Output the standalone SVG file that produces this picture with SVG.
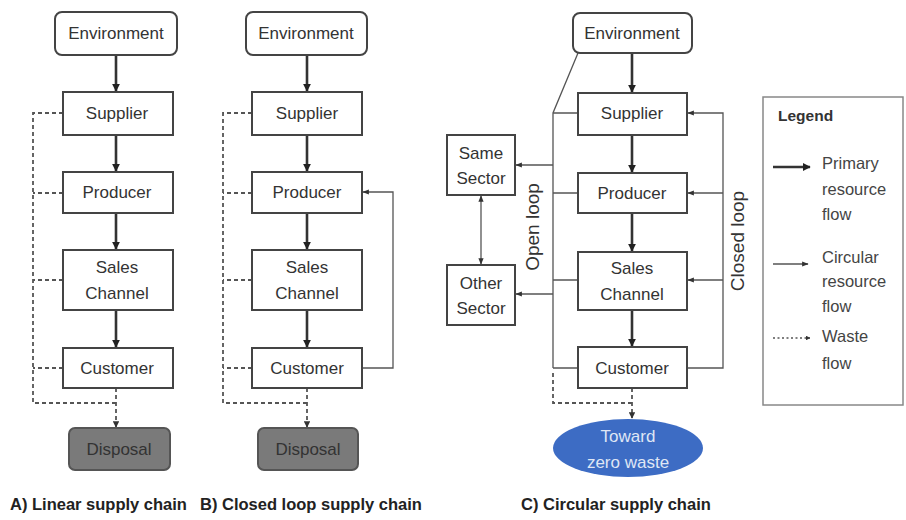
<svg xmlns="http://www.w3.org/2000/svg" width="906" height="520" viewBox="0 0 906 520">
<style>
.box{fill:#fff;stroke:#444;stroke-width:2}
.disp{fill:#7a7a7a;stroke:#555;stroke-width:2}
.t{font-family:"Liberation Sans",Arial,sans-serif;font-size:17px;fill:#333;text-anchor:middle;dominant-baseline:central}
.rot{font-size:19px}
.cap{font-family:"Liberation Sans",Arial,sans-serif;font-size:16.5px;font-weight:bold;fill:#222}
.lg{font-family:"Liberation Sans",Arial,sans-serif;font-size:16.5px;fill:#444;dominant-baseline:central}
.pri{stroke:#333;stroke-width:2.6;fill:none}
.cir{stroke:#555;stroke-width:1.3;fill:none}
.was{stroke:#555;stroke-width:1.8;fill:none;stroke-dasharray:4 3}
</style>
<defs>
<marker id="ah" viewBox="0 0 10 10" refX="9" refY="5" markerWidth="3" markerHeight="3" orient="auto-start-reverse"><path d="M0,0L10,5L0,10z" fill="#222"/></marker>
<marker id="ac" viewBox="0 0 10 10" refX="9" refY="5" markerWidth="5" markerHeight="5" orient="auto-start-reverse"><path d="M0,1L10,5L0,9z" fill="#333"/></marker>
<marker id="aw" viewBox="0 0 10 10" refX="9" refY="5" markerWidth="3.5" markerHeight="3.5" orient="auto"><path d="M0,0L10,5L0,10z" fill="#333"/></marker>
</defs>

<g id="connectors">
<!-- Panel A -->
<line class="pri" x1="116" y1="55" x2="116" y2="91" marker-end="url(#ah)"/>
<line class="pri" x1="116" y1="135" x2="116" y2="171" marker-end="url(#ah)"/>
<line class="pri" x1="116" y1="213" x2="116" y2="249" marker-end="url(#ah)"/>
<line class="pri" x1="116" y1="310" x2="116" y2="347" marker-end="url(#ah)"/>
<path class="was" d="M63,113H33V403H116"/>
<path class="was" d="M63,193H33M63,280H33M63,368H33"/>
<line class="was" x1="116" y1="388" x2="116" y2="427" marker-end="url(#aw)"/>
<!-- Panel B -->
<line class="pri" x1="307" y1="55" x2="307" y2="91" marker-end="url(#ah)"/>
<line class="pri" x1="307" y1="135" x2="307" y2="171" marker-end="url(#ah)"/>
<line class="pri" x1="307" y1="213" x2="307" y2="249" marker-end="url(#ah)"/>
<line class="pri" x1="307" y1="310" x2="307" y2="347" marker-end="url(#ah)"/>
<path class="was" d="M252,113H223V403H307"/>
<path class="was" d="M252,193H223M252,280H223M252,368H223"/>
<line class="was" x1="307" y1="388" x2="307" y2="427" marker-end="url(#aw)"/>
<path class="cir" d="M362,368H393V192H363" marker-end="url(#ac)"/>
<!-- Panel C -->
<line class="pri" x1="632" y1="53" x2="632" y2="92" marker-end="url(#ah)"/>
<line class="pri" x1="632" y1="135" x2="632" y2="172" marker-end="url(#ah)"/>
<line class="pri" x1="632" y1="213" x2="632" y2="251" marker-end="url(#ah)"/>
<line class="pri" x1="632" y1="310" x2="632" y2="346" marker-end="url(#ah)"/>
<path class="cir" d="M578,53L553,113V368"/>
<path class="cir" d="M578,113H553M578,193H553M578,280H553M578,368H553"/>
<line class="cir" x1="553" y1="165" x2="516" y2="165" marker-end="url(#ac)"/>
<line class="cir" x1="553" y1="294" x2="516" y2="294" marker-end="url(#ac)"/>
<line class="cir" x1="481" y1="264" x2="481" y2="196" marker-start="url(#ac)" marker-end="url(#ac)"/>
<path class="cir" d="M687,368H723V113H688" marker-end="url(#ac)"/>
<line class="cir" x1="723" y1="193" x2="688" y2="193" marker-end="url(#ac)"/>
<line class="cir" x1="723" y1="280" x2="688" y2="280" marker-end="url(#ac)"/>
<path class="was" d="M553,373V403H632"/>
<line class="was" x1="632" y1="388" x2="632" y2="418" marker-end="url(#aw)"/>
</g>

<g id="a-environment"><rect class="box" x="55" y="12" width="122" height="43" rx="7"/><text class="t" x="116" y="33">Environment</text></g>
<g id="a-supplier"><rect class="box" x="63" y="92" width="110" height="43"/><text class="t" x="117" y="113">Supplier</text></g>
<g id="a-producer"><rect class="box" x="63" y="172" width="110" height="41"/><text class="t" x="117" y="192">Producer</text></g>
<g id="a-sales"><rect class="box" x="63" y="250" width="110" height="60"/><text class="t" x="117" y="267">Sales</text><text class="t" x="117" y="293">Channel</text></g>
<g id="a-customer"><rect class="box" x="63" y="348" width="110" height="40"/><text class="t" x="117" y="368">Customer</text></g>
<g id="a-disposal"><rect class="disp" x="69" y="428" width="101" height="42" rx="6"/><text class="t" x="119" y="449">Disposal</text></g>

<g id="b-environment"><rect class="box" x="246" y="12" width="121" height="43" rx="7"/><text class="t" x="306" y="33">Environment</text></g>
<g id="b-supplier"><rect class="box" x="252" y="92" width="110" height="43"/><text class="t" x="307" y="113">Supplier</text></g>
<g id="b-producer"><rect class="box" x="252" y="172" width="110" height="41"/><text class="t" x="307" y="192">Producer</text></g>
<g id="b-sales"><rect class="box" x="252" y="250" width="110" height="60"/><text class="t" x="307" y="267">Sales</text><text class="t" x="307" y="293">Channel</text></g>
<g id="b-customer"><rect class="box" x="252" y="348" width="110" height="40"/><text class="t" x="307" y="368">Customer</text></g>
<g id="b-disposal"><rect class="disp" x="258" y="428" width="100" height="42" rx="6"/><text class="t" x="308" y="449">Disposal</text></g>

<g id="c-environment"><rect class="box" x="573" y="13" width="119" height="40" rx="7"/><text class="t" x="632" y="33">Environment</text></g>
<g id="c-supplier"><rect class="box" x="578" y="93" width="109" height="42"/><text class="t" x="632" y="113">Supplier</text></g>
<g id="c-producer"><rect class="box" x="578" y="173" width="109" height="40"/><text class="t" x="632" y="193">Producer</text></g>
<g id="c-sales"><rect class="box" x="578" y="252" width="109" height="58"/><text class="t" x="632" y="268">Sales</text><text class="t" x="632" y="294">Channel</text></g>
<g id="c-customer"><rect class="box" x="578" y="347" width="109" height="41"/><text class="t" x="632" y="368">Customer</text></g>
<g id="c-same"><rect class="box" x="447" y="135" width="68" height="60"/><text class="t" x="481" y="153">Same</text><text class="t" x="481" y="178">Sector</text></g>
<g id="c-other"><rect class="box" x="447" y="265" width="68" height="60"/><text class="t" x="481" y="283">Other</text><text class="t" x="481" y="308">Sector</text></g>
<g id="c-zero"><ellipse cx="628" cy="448" rx="75" ry="29" fill="#3d6cc4"/><text class="t" x="628" y="436" style="fill:#dfe6f5">Toward</text><text class="t" x="628" y="462" style="fill:#dfe6f5">zero waste</text></g>
<text class="t rot" transform="translate(532,227) rotate(-90)">Open loop</text>
<text class="t rot" transform="translate(737,241) rotate(-90)">Closed loop</text>

<g id="legend">
<rect x="763" y="97" width="140" height="308" fill="#fff" stroke="#888" stroke-width="1.5"/>
<text class="lg" x="778" y="115" style="font-weight:bold;fill:#333;font-size:15.5px">Legend</text>
<line class="pri" x1="773" y1="167" x2="810" y2="167" marker-end="url(#ah)"/>
<text class="lg" x="822" y="163">Primary</text><text class="lg" x="822" y="189">resource</text><text class="lg" x="822" y="214">flow</text>
<line class="cir" x1="773" y1="264" x2="808" y2="264" marker-end="url(#ac)"/>
<text class="lg" x="822" y="257">Circular</text><text class="lg" x="822" y="281">resource</text><text class="lg" x="822" y="306">flow</text>
<line class="was" x1="773" y1="338" x2="810" y2="338" style="stroke-dasharray:2 2.5;stroke-width:1.4" marker-end="url(#aw)"/>
<text class="lg" x="822" y="336">Waste</text><text class="lg" x="822" y="363">flow</text>
</g>

<g id="captions">
<text class="cap" x="10" y="510">A) Linear supply chain</text>
<text class="cap" x="200" y="510">B) Closed loop supply chain</text>
<text class="cap" x="521" y="510">C) Circular supply chain</text>
</g>
</svg>
